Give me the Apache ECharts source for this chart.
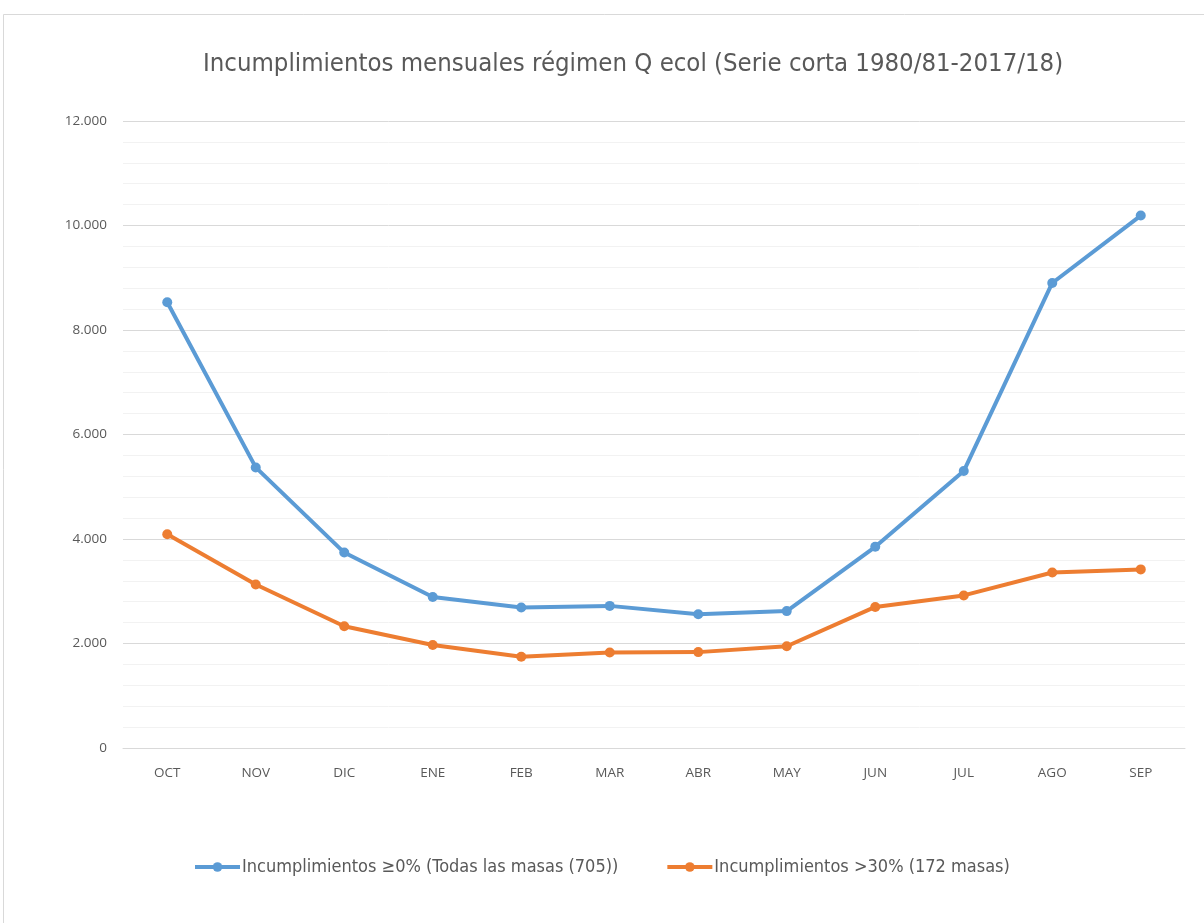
<!DOCTYPE html>
<html><head><meta charset="utf-8">
<script src="https://cdn.jsdelivr.net/npm/echarts@6/dist/echarts.min.js"></script>
<style>html,body{margin:0;padding:0;background:#fff}#c{width:1204px;height:923px}</style>
</head><body><div id="c"></div>
<script>
const categories = ['OCT','NOV','DIC','ENE','FEB','MAR','ABR','MAY','JUN','JUL','AGO','SEP'];
const seriesAllName = 'Incumplimientos ≥0% (Todas las masas (705))';
const seriesAll = [8530, 5370, 3740, 2890, 2690, 2720, 2560, 2620, 3850, 5300, 8900, 10190];
const series30Name = 'Incumplimientos >30% (172 masas)';
const series30 = [4090, 3130, 2330, 1970, 1745, 1828, 1835, 1948, 2700, 2920, 3360, 3418];
const titleText = 'Incumplimientos mensuales régimen Q ecol (Serie corta 1980/81-2017/18)';

const chart = echarts.init(document.getElementById('c'));
const narrow = '"Liberation Sans Narrow","DejaVu Sans Condensed",sans-serif';
chart.setOption({
  backgroundColor: '#fff',
  animation: false,
  graphic: [{type:'rect', shape:{x:3.5,y:14.5,width:1210,height:920}, style:{fill:'none', stroke:'#d9d9d9', lineWidth:1}, silent:true}],
  title: {text: titleText, left: 198, top: 46, textStyle:{fontFamily: narrow, fontWeight:'normal', fontSize:25.5, color:'#595959'}},
  legend: {bottom: 42, left: 188, itemWidth: 45, itemHeight: 12, itemGap: 47,
    lineStyle:{width:4},
    textStyle:{fontFamily: narrow, fontSize:18, color:'#595959', padding:[0,0,0,-3]},
    data:[seriesAllName, series30Name]},
  grid: {left: 123, right: 19, top: 121, bottom: 175, containLabel: false},
  xAxis: {type:'category', data: categories, boundaryGap: true,
    axisLine:{show:true, lineStyle:{color:'#d9d9d9', width:1}}, axisTick:{show:false},
    axisLabel:{color:'#595959', fontFamily:'"Open Sans",sans-serif', fontSize:13.5, margin:18}},
  yAxis: {type:'value', min:0, max:12000, interval:2000,
    axisLine:{show:false}, axisTick:{show:false},
    axisLabel:{color:'#595959', fontFamily:'"Open Sans",sans-serif', fontSize:13.5, margin:16,
      formatter: v => v === 0 ? '0' : String(v).replace(/\B(?=(\d{3})+(?!\d))/g, '.')},
    splitLine:{lineStyle:{color:'#d9d9d9', width:1}},
    minorTick:{show:false, splitNumber:5},
    minorSplitLine:{show:true, lineStyle:{color:'#f2f2f2', width:1}}},
  series: [
    {name: seriesAllName, type:'line', data: seriesAll, symbol:'circle', symbolSize:10,
     lineStyle:{width:4, color:'#5B9BD5'}, itemStyle:{color:'#5B9BD5'}},
    {name: series30Name, type:'line', data: series30, symbol:'circle', symbolSize:10,
     lineStyle:{width:4, color:'#ED7D31'}, itemStyle:{color:'#ED7D31'}}
  ]
});
</script></body></html>
